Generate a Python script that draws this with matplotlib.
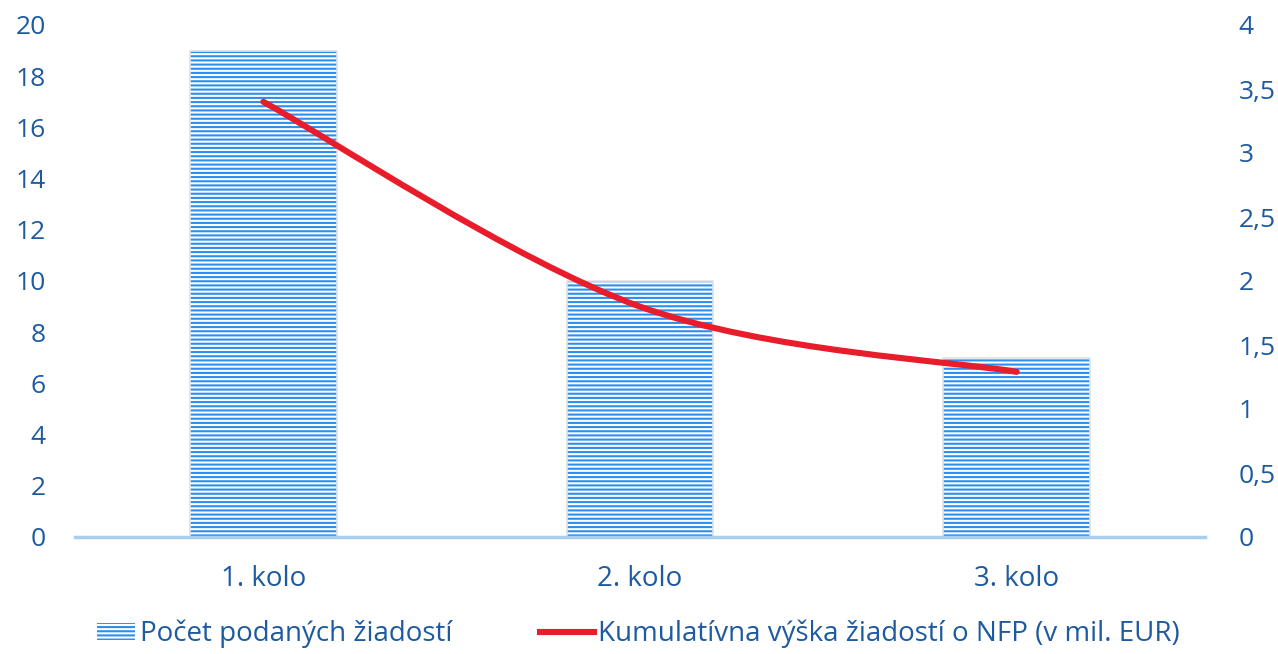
import numpy as np
import matplotlib.pyplot as plt
from matplotlib.patches import Patch, PathPatch
from matplotlib.lines import Line2D
from matplotlib.path import Path

kola = ["1. kolo", "2. kolo", "3. kolo"]
pocet_ziadosti = [19, 10, 7]
kumulativna_vyska = [3.4, 1.8, 1.29]

txt_color = "#1D5AA0"
bar_color = "#2A8FF0"
line_color = "#E81C2B"

plt.rcParams['font.family'] = ['Open Sans', 'DejaVu Sans']
plt.rcParams['hatch.linewidth'] = 1.5

fig = plt.figure(figsize=(12.78, 6.54), dpi=100)
ax = fig.add_axes([75 / 1278, 1 - 537 / 654, 1130 / 1278, 512 / 654])
ax2 = ax.twinx()

x = np.arange(len(kola))
# striped bars (hatch takes the edge colour) + light outline
ax.bar(x, pocet_ziadosti, width=0.39, color="white", hatch="----",
       edgecolor=bar_color, linewidth=0, zorder=2)
ax.bar(x, pocet_ziadosti, width=0.39, fill=False,
       edgecolor="#E2E2E2", linewidth=1.2, zorder=2)

# smoothed line like Excel (Catmull-Rom through the points)
pts = np.column_stack([x, kumulativna_vyska])
verts = [tuple(pts[0])]
codes = [Path.MOVETO]
for i in range(len(pts) - 1):
    p0 = pts[i - 1] if i > 0 else pts[i]
    p1, p2 = pts[i], pts[i + 1]
    p3 = pts[i + 2] if i + 2 < len(pts) else pts[i + 1]
    c1 = p1 + (p2 - p0) / 6
    c2 = p2 - (p3 - p1) / 6
    verts += [tuple(c1), tuple(c2), tuple(p2)]
    codes += [Path.CURVE4] * 3
ax2.add_patch(PathPatch(Path(verts, codes), fill=False, edgecolor=line_color,
                        linewidth=4.4, capstyle="round", zorder=3))

ax.set_xlim(-0.5, 2.5)
ax.set_ylim(0, 20)
ax2.set_ylim(0, 4)
ax.set_yticks(range(0, 21, 2))
ax2.set_yticks(np.arange(0, 4.01, 0.5))
ax2.set_yticklabels([f"{v:g}".replace(".", ",") for v in np.arange(0, 4.01, 0.5)])
ax.set_xticks(x)
ax.set_xticklabels(kola)

for a in (ax, ax2):
    for s in a.spines.values():
        s.set_visible(False)
    a.tick_params(length=0, labelsize=19, colors=txt_color)
ax.tick_params(axis="y", pad=21)
ax2.tick_params(axis="y", pad=24)
ax.tick_params(axis="x", labelsize=20, pad=20)
ax.axhline(0, color="#A9CDEE", linewidth=2.5, zorder=4, clip_on=False)

yleg = 1 - 634 / 654
fig.legend([Patch(facecolor="white", hatch="----", edgecolor=bar_color, linewidth=0)],
           ["Počet podaných žiadostí"], loc="center left",
           bbox_to_anchor=(97 / 1278, yleg), frameon=False, fontsize=20,
           labelcolor=txt_color, handlelength=1.35, handleheight=0.55,
           handletextpad=0.2, borderpad=0, borderaxespad=0)
fig.legend([Line2D([0], [0], color=line_color, linewidth=4.4)],
           ["Kumulatívna výška žiadostí o NFP (v mil. EUR)"], loc="center left",
           bbox_to_anchor=(540 / 1278, yleg), frameon=False, fontsize=20,
           labelcolor=txt_color, handlelength=1.95, handletextpad=0.15,
           borderpad=0, borderaxespad=0)

fig.savefig("out.png", dpi=100)
